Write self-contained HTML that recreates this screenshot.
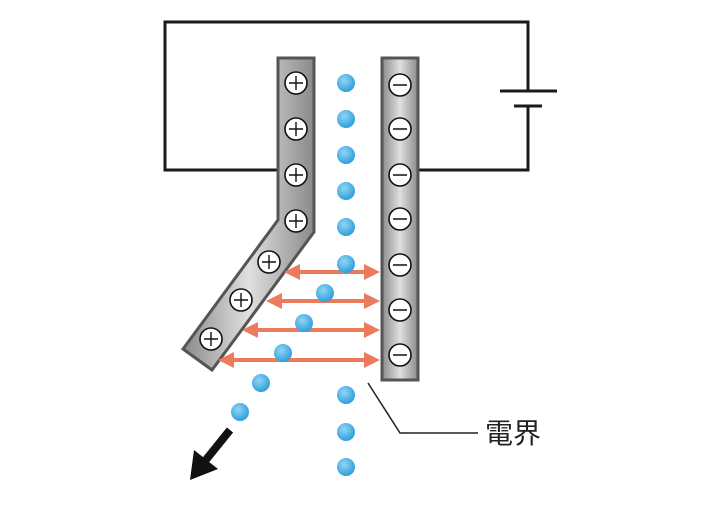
<!DOCTYPE html>
<html><head><meta charset="utf-8"><style>body{margin:0;background:#fff}</style></head><body>
<svg width="720" height="500" xmlns="http://www.w3.org/2000/svg">
<defs>
<linearGradient id="g" x1="0" x2="1"><stop offset="0" stop-color="#8a8a8a"/><stop offset="0.5" stop-color="#e0e0e0"/><stop offset="1" stop-color="#8a8a8a"/></linearGradient>
<radialGradient id="b" cx="0.4" cy="0.35" r="0.65"><stop offset="0" stop-color="#8fd6f5"/><stop offset="1" stop-color="#2f9fdc"/></radialGradient>
<marker id="ah" markerWidth="4" markerHeight="4" refX="2" refY="2" orient="auto-start-reverse" markerUnits="strokeWidth"><path d="M0,0 L4,2 L0,4 Z" fill="#ec7a5c"/></marker>
</defs>
<g stroke="#1a1a1a" stroke-width="3" fill="none">
<polyline points="278,170 165,170 165,22 528,22 528,91"/>
<polyline points="418,170 528,170 528,106"/>
<line x1="500" y1="91" x2="557" y2="91"/>
<line x1="514" y1="106" x2="542" y2="106"/>
</g>
<polygon points="278,58 314,58 314,232 212,370 183,349 278,220" fill="url(#g)" stroke="#555" stroke-width="3"/>
<rect x="382" y="58" width="36" height="322" fill="url(#g)" stroke="#555" stroke-width="3"/>
<g fill="#fff" stroke="#111" stroke-width="1.6">
<circle cx="296" cy="83" r="11"/><circle cx="296" cy="129" r="11"/><circle cx="296" cy="175" r="11"/><circle cx="296" cy="221" r="11"/>
<circle cx="269" cy="262" r="11"/><circle cx="241" cy="300" r="11"/><circle cx="211" cy="339" r="11"/>
<circle cx="400" cy="85" r="11"/><circle cx="400" cy="129" r="11"/><circle cx="400" cy="175" r="11"/><circle cx="400" cy="219" r="11"/><circle cx="400" cy="265" r="11"/><circle cx="400" cy="310" r="11"/><circle cx="400" cy="355" r="11"/>
</g>
<g stroke="#111" stroke-width="1.4">
<path d="M289,83h14M296,76v14M289,129h14M296,122v14M289,175h14M296,168v14M289,221h14M296,214v14M262,262h14M269,255v14M234,300h14M241,293v14M204,339h14M211,332v14"/>
<path d="M393,85h14M393,129h14M393,175h14M393,219h14M393,265h14M393,310h14M393,355h14"/>
</g>
<g stroke="#ec7a5c" stroke-width="4" marker-start="url(#ah)" marker-end="url(#ah)">
<line x1="292" y1="272" x2="372" y2="272"/>
<line x1="274" y1="301" x2="372" y2="301"/>
<line x1="250" y1="330" x2="372" y2="330"/>
<line x1="226" y1="360" x2="372" y2="360"/>
</g>
<g fill="url(#b)">
<circle cx="346" cy="83" r="9"/><circle cx="346" cy="119" r="9"/><circle cx="346" cy="155" r="9"/><circle cx="346" cy="191" r="9"/><circle cx="346" cy="227" r="9"/><circle cx="346" cy="264" r="9"/>
<circle cx="325" cy="293" r="9"/><circle cx="304" cy="323" r="9"/><circle cx="283" cy="353" r="9"/><circle cx="261" cy="383" r="9"/><circle cx="240" cy="412" r="9"/>
<circle cx="346" cy="395" r="9"/><circle cx="346" cy="432" r="9"/><circle cx="346" cy="467" r="9"/>
</g>
<polyline points="368,383 400,433 478,433" fill="none" stroke="#222" stroke-width="1.5"/>
<text x="485" y="443" font-family="Liberation Sans, Noto Sans CJK JP, sans-serif" font-size="28" fill="#222">電界</text>
<line x1="230" y1="430" x2="205" y2="461" stroke="#111" stroke-width="8"/>
<polygon points="190,480 194,450 218,469" fill="#111"/>
</svg>
</body></html>
